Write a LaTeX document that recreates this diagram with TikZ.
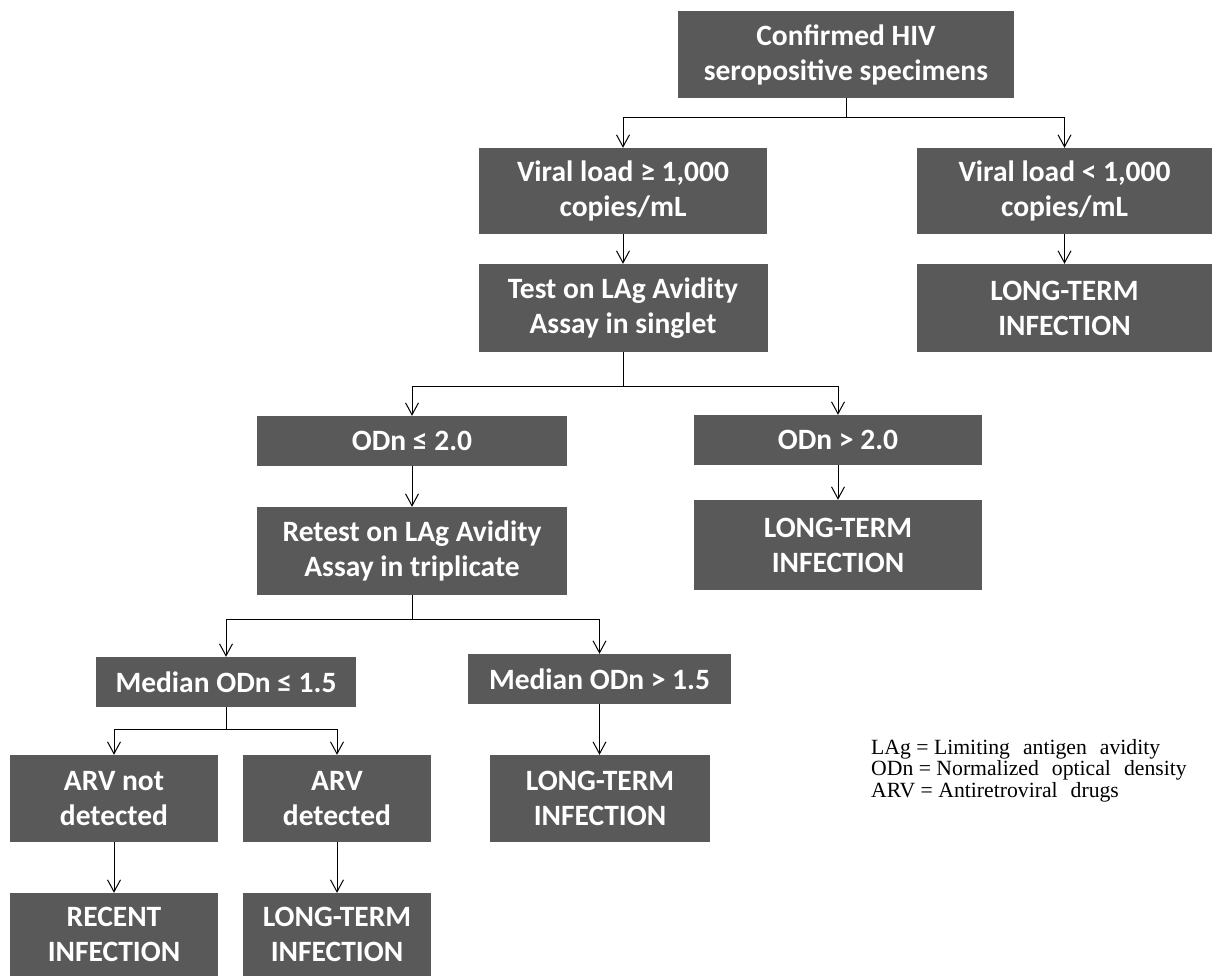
\documentclass[tikz,border=0pt]{standalone}
\usepackage{fontspec}
\setmainfont{Liberation Serif}
\newfontfamily\boxfont{Carlito}
\usetikzlibrary{arrows.meta}
\definecolor{boxgray}{HTML}{595959}
\newcommand\legendfnt{\fontsize{21.7}{21.5}\selectfont}
\newcommand\wgap{\hspace{0.6em}}
\begin{document}
\begin{tikzpicture}[x=1pt,y=-1pt,
  box/.style={fill=boxgray, text=white, font=\boxfont\bfseries\fontsize{29.5}{35}\selectfont, align=center, inner sep=0pt},
  arr/.style={-{Straight Barb[length=12pt,width=13pt,line width=1pt]}},
  conn/.style={line width=1pt, black},
  legendtext/.style={font=\legendfnt, align=left, inner sep=0pt, anchor=north west}]
\useasboundingbox (0,0) rectangle (1213,977);

\node[box, minimum width=336pt, minimum height=87pt] (b1) at (846,54.5) {Confirmed HIV\\seropositive specimens};
\node[box, minimum width=288pt, minimum height=86pt] (vl) at (623,191) {Viral load ≥ 1,000\\copies/mL};
\node[box, minimum width=295pt, minimum height=86pt] (vr) at (1064.5,191) {Viral load < 1,000\\copies/mL};
\node[box, minimum width=289pt, minimum height=88pt] (test) at (623,308) {Test on LAg Avidity\\Assay in singlet};
\node[box, minimum width=295pt, minimum height=88pt] (ltr) at (1064.5,308) {LONG-TERM\\INFECTION};
\node[box, minimum width=310pt, minimum height=50pt] (odl) at (412,441) {ODn ≤ 2.0};
\node[box, minimum width=288pt, minimum height=50pt] (odr) at (838,440) {ODn > 2.0};
\node[box, minimum width=310pt, minimum height=88pt] (retest) at (412,551) {Retest on LAg Avidity\\Assay in triplicate};
\node[box, minimum width=288pt, minimum height=90pt] (ltm) at (838,545) {LONG-TERM\\INFECTION};
\node[box, minimum width=260pt, minimum height=50pt] (mdl) at (226,682) {Median ODn ≤ 1.5};
\node[box, minimum width=263pt, minimum height=50pt] (mdr) at (599.5,679) {Median ODn > 1.5};
\node[box, minimum width=208pt, minimum height=87pt] (arvn) at (114,798.5) {ARV not\\detected};
\node[box, minimum width=188pt, minimum height=87pt] (arvd) at (337,798.5) {ARV\\detected};
\node[box, minimum width=220pt, minimum height=87pt] (ltb1) at (600,798.5) {LONG-TERM\\INFECTION};
\node[box, minimum width=208pt, minimum height=83pt] (recent) at (114,934.5) {RECENT\\INFECTION};
\node[box, minimum width=188pt, minimum height=83pt] (ltb2) at (337,934.5) {LONG-TERM\\INFECTION};

\node[legendtext] (legend) at (871,739) {LAg = Limiting\wgap antigen\wgap avidity\\ODn = Normalized\wgap optical\wgap density\\ARV = Antiretroviral\wgap drugs};

\begin{scope}[conn]
\draw (b1.south) -- ++(0,19) coordinate (j1);
\draw[arr] (j1) -| (vl.north);
\draw[arr] (j1) -| (vr.north);
\draw[arr] (vl.south) -- (vl.south |- test.north);
\draw[arr] (vr.south) -- (vr.south |- ltr.north);
\draw (test.south) -- ++(0,34) coordinate (j2);
\draw[arr] (j2) -| (odl.north);
\draw[arr] (j2) -| (odr.north);
\draw[arr] (odl.south) -- (odl.south |- retest.north);
\draw[arr] (odr.south) -- (odr.south |- ltm.north);
\draw (retest.south) -- ++(0,24) coordinate (j3);
\draw[arr] (j3) -| (mdl.north);
\draw[arr] (j3) -| (mdr.north);
\draw (mdl.south) -- ++(0,22) coordinate (j4);
\draw[arr] (j4) -| (arvn.north);
\draw[arr] (j4) -| (arvd.north);
\draw[arr] (mdr.south) -- (mdr.south |- ltb1.north);
\draw[arr] (arvn.south) -- (arvn.south |- recent.north);
\draw[arr] (arvd.south) -- (arvd.south |- ltb2.north);
\end{scope}
\end{tikzpicture}
\end{document}
